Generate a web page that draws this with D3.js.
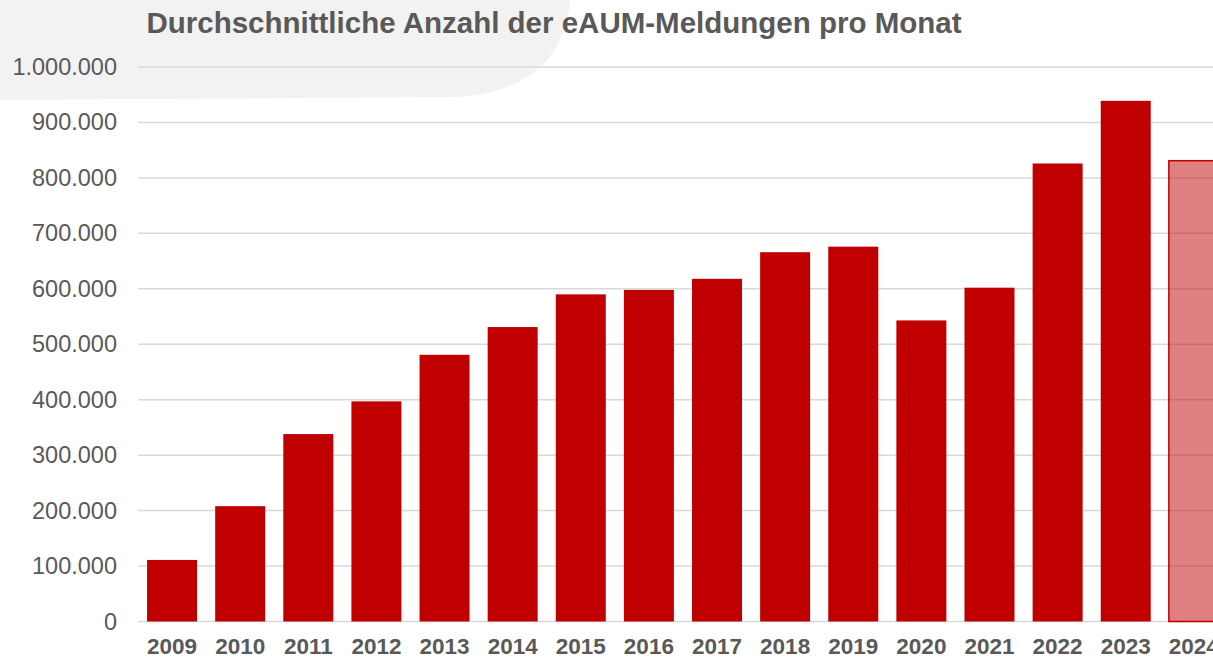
<!DOCTYPE html>
<html>
<head>
<meta charset="utf-8">
<script src="https://cdn.jsdelivr.net/npm/d3@7"></script>
<style>
  body { margin: 0; background: #fff; }
  svg { display: block; font-family: "Liberation Sans", Arial, sans-serif; }
</style>
</head>
<body>
<svg id="chart" width="1213" height="659"></svg>
<script>
const title = "Durchschnittliche Anzahl der eAUM-Meldungen pro Monat";
const years = ["2009", "2010", "2011", "2012", "2013", "2014", "2015", "2016",
  "2017", "2018", "2019", "2020", "2021", "2022", "2023", "2024"];
const values = [111000, 208000, 338000, 397000, 481000, 531000, 590000, 598000,
  618000, 666000, 676000, 543000, 602000, 826000, 939000, 831000];
const yTicks = [0, 100000, 200000, 300000, 400000, 500000, 600000, 700000, 800000, 900000, 1000000];
const partialYear = "2024"; // year not complete yet -> lighter bar

const svg = d3.select("#chart");
const W = 1213, H = 659;
const textColor = "#595959";
const barColor = "#C00000";

const de = d3.formatLocale({ decimal: ",", thousands: ".", grouping: [3], currency: ["", " €"] });
const fmt = de.format(",.0f");

const x = d3.scaleBand()
  .domain(years)
  .range([138, 138 + 16 * 68.12])
  .paddingInner(0.266)
  .paddingOuter(0.133);

const y = d3.scaleLinear().domain([0, 1000000]).range([621.5, 67]);

// grey decoration in the upper left corner
svg.append("path")
  .attr("d", "M0,0 H570 C566,55 530,95 450,97 L0,100 Z")
  .attr("fill", "#f2f2f2");

// gridlines
svg.append("g")
  .selectAll("line")
  .data(yTicks)
  .join("line")
  .attr("x1", 138)
  .attr("x2", W)
  .attr("y1", d => y(d))
  .attr("y2", d => y(d))
  .attr("stroke", "#d9d9d9")
  .attr("stroke-width", 1.5);

// y labels
svg.append("g")
  .selectAll("text")
  .data(yTicks)
  .join("text")
  .attr("x", 117)
  .attr("y", d => y(d) + 8)
  .attr("text-anchor", "end")
  .attr("font-size", 23.5)
  .attr("fill", textColor)
  .text(d => fmt(d));

// bars
const data = years.map((yr, i) => ({ year: yr, value: values[i] }));
svg.append("g")
  .selectAll("rect")
  .data(data)
  .join("rect")
  .attr("x", d => x(d.year))
  .attr("y", d => y(d.value))
  .attr("width", x.bandwidth())
  .attr("height", d => y(0) - y(d.value))
  .attr("fill", barColor)
  .attr("fill-opacity", d => d.year === partialYear ? 0.5 : 1)
  .attr("stroke", d => d.year === partialYear ? barColor : "none")
  .attr("stroke-width", 1.5);

// x labels
svg.append("g")
  .selectAll("text")
  .data(years)
  .join("text")
  .attr("x", d => x(d) + x.bandwidth() / 2)
  .attr("y", 654)
  .attr("text-anchor", "middle")
  .attr("font-size", 22.5)
  .attr("font-weight", "bold")
  .attr("fill", textColor)
  .text(d => d);

// title
svg.append("text")
  .attr("x", 554)
  .attr("y", 33)
  .attr("text-anchor", "middle")
  .attr("font-size", 29.5)
  .attr("font-weight", "bold")
  .attr("fill", textColor)
  .text(title);
</script>
</body>
</html>
